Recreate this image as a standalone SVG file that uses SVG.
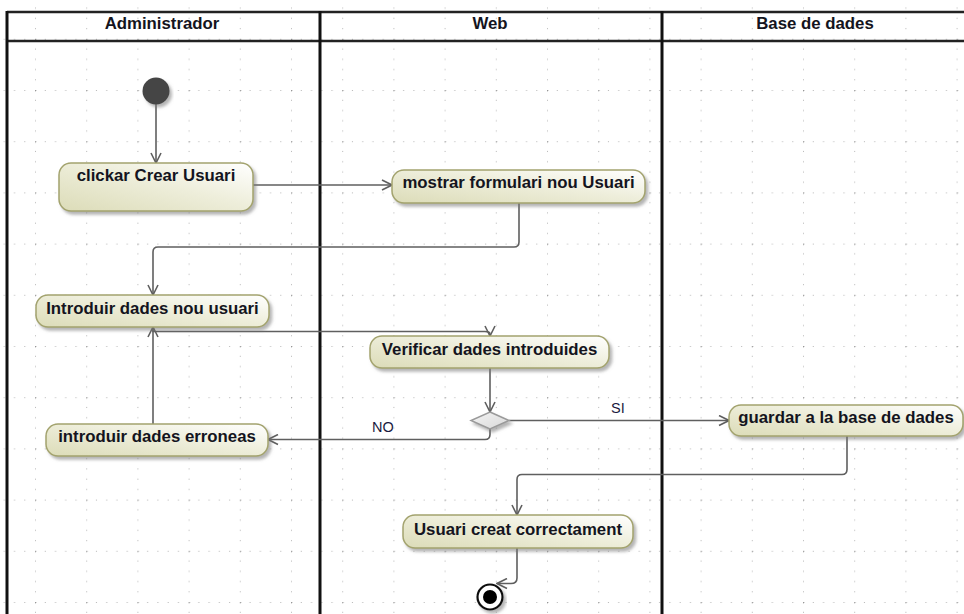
<svg xmlns="http://www.w3.org/2000/svg" width="964" height="614" viewBox="0 0 964 614">
<style>
.lane{stroke:#111;stroke-width:3;fill:none}
.hline{stroke:#222;stroke-width:2.5;fill:none}
.hdr{font-family:"Liberation Sans",Arial,sans-serif;font-weight:bold;font-size:16.8px;fill:#141420;text-anchor:middle}
.act{fill:url(#actGrad);stroke:#a3a36e;stroke-width:1.5;filter:url(#shadow)}
.lbl{font-family:"Liberation Sans",Arial,sans-serif;font-weight:bold;font-size:16.8px;fill:#141420;text-anchor:middle}
.guard{font-family:"Liberation Sans",Arial,sans-serif;font-size:14.5px;fill:#1a1a40}
.conn{stroke:#5f5f5f;stroke-width:1.6;fill:none;marker-end:url(#arr)}
.d{fill:#8e8e8e}
</style>
<defs>
<pattern id="grid" patternUnits="userSpaceOnUse" x="35" y="90" width="51.2" height="51.2">
<rect x="-0.6" y="-0.6" width="1.4" height="1.4" fill="#777"/>
<rect x="-1.6" y="-0.3" width="3.2" height="0.8" class="d"/>
<rect x="-0.3" y="-1.6" width="0.8" height="3.2" class="d"/>
<rect x="9.74" y="-0.5" width="1.1" height="1.1" class="d"/>
<rect x="19.98" y="-0.5" width="1.1" height="1.1" class="d"/>
<rect x="30.22" y="-0.5" width="1.1" height="1.1" class="d"/>
<rect x="40.46" y="-0.5" width="1.1" height="1.1" class="d"/>
<rect x="-0.5" y="9.74" width="1.1" height="1.1" class="d"/>
<rect x="-0.5" y="19.98" width="1.1" height="1.1" class="d"/>
<rect x="-0.5" y="30.22" width="1.1" height="1.1" class="d"/>
<rect x="-0.5" y="40.46" width="1.1" height="1.1" class="d"/>
</pattern>
<linearGradient id="actGrad" x1="0" y1="1" x2="1" y2="0">
<stop offset="0" stop-color="#dcdcb8"/>
<stop offset="0.55" stop-color="#eeeedb"/>
<stop offset="1" stop-color="#ffffff"/>
</linearGradient>
<linearGradient id="decGrad" x1="0" y1="0" x2="1" y2="1">
<stop offset="0" stop-color="#f4f4f4"/>
<stop offset="1" stop-color="#d8d8d8"/>
</linearGradient>
<filter id="shadow" x="-10%" y="-20%" width="125%" height="160%">
<feDropShadow dx="2.5" dy="3" stdDeviation="1.5" flood-color="#777" flood-opacity="0.55"/>
</filter>
<marker id="arr" viewBox="0 0 12 12" refX="11" refY="6" markerWidth="12" markerHeight="12" markerUnits="userSpaceOnUse" orient="auto">
<path d="M1,1 L11,6 L1,11" fill="none" stroke="#5f5f5f" stroke-width="1.6"/>
</marker>
</defs>
<rect x="0" y="0" width="964" height="614" fill="#ffffff"/>
<rect x="0" y="0" width="964" height="614" fill="url(#grid)"/>
<g id="swimlanes">
<line class="hline" x1="7" y1="12" x2="970" y2="12"/>
<line class="hline" x1="7" y1="41" x2="970" y2="41"/>
<line class="lane" x1="7" y1="11" x2="7" y2="620"/>
<line class="lane" x1="320" y1="11" x2="320" y2="620"/>
<line class="lane" x1="662" y1="11" x2="662" y2="620"/>
<line class="lane" x1="968" y1="11" x2="968" y2="620"/>
<text class="hdr" x="162" y="29">Administrador</text>
<text class="hdr" x="490" y="29">Web</text>
<text class="hdr" x="815" y="29">Base de dades</text>
</g>
<g id="connectors">
<path class="conn" d="M156,104 V163"/>
<path class="conn" d="M253,185 H392"/>
<path class="conn" d="M519,203 V242 Q519,247 514,247 H158 Q153,247 153,252 V295"/>
<path class="conn" d="M153,327 V331.5 H485 Q490,331.5 490,334 V336"/>
<path class="conn" d="M490,368 V412"/>
<path class="conn" d="M509,420.5 H729"/>
<path class="conn" d="M490,429 V434.5 Q490,439.5 485,439.5 H268"/>
<path class="conn" d="M153,424 V327"/>
<path class="conn" d="M847,436 V469.5 Q847,474.5 842,474.5 H522 Q517,474.5 517,479.5 V515"/>
<path class="conn" d="M517,548 V578 Q517,583.5 511,583.5 H497"/>
<text class="guard" x="611" y="413">SI</text>
<text class="guard" x="372" y="432">NO</text>
</g>
<g id="initial">
<circle cx="156" cy="91" r="13.5" fill="#444" filter="url(#shadow)"/>
</g>
<g id="clickar">
<rect class="act" x="59" y="163" width="194" height="48" rx="12"/>
<text class="lbl" x="156" y="181">clickar Crear Usuari</text>
</g>
<g id="mostrar">
<rect class="act" x="392" y="170" width="253" height="33" rx="12"/>
<text class="lbl" x="518.5" y="187.5">mostrar formulari nou Usuari</text>
</g>
<g id="introduir">
<rect class="act" x="36" y="295" width="233" height="32" rx="12"/>
<text class="lbl" x="152.5" y="313.5">Introduir dades nou usuari</text>
</g>
<g id="verificar">
<rect class="act" x="370" y="336" width="239" height="32" rx="12"/>
<text class="lbl" x="489.5" y="354.5">Verificar dades introduides</text>
</g>
<g id="decision">
<polygon points="490,412 509,420.5 490,429 471,420.5" fill="url(#decGrad)" stroke="#9a9a9a" stroke-width="1.5" filter="url(#shadow)"/>
</g>
<g id="erroneas">
<rect class="act" x="46" y="424" width="222" height="32" rx="12"/>
<text class="lbl" x="157" y="442">introduir dades erroneas</text>
</g>
<g id="guardar">
<rect class="act" x="729" y="405" width="234" height="31" rx="12"/>
<text class="lbl" x="846" y="423">guardar a la base de dades</text>
</g>
<g id="creat">
<rect class="act" x="403" y="515" width="230" height="33" rx="12"/>
<text class="lbl" x="518" y="534.5">Usuari creat correctament</text>
</g>
<g id="final">
<circle cx="490" cy="597" r="12.5" fill="#fff" stroke="#111" stroke-width="2.2" filter="url(#shadow)"/>
<circle cx="490" cy="597" r="7" fill="#000"/>
</g>
</svg>
